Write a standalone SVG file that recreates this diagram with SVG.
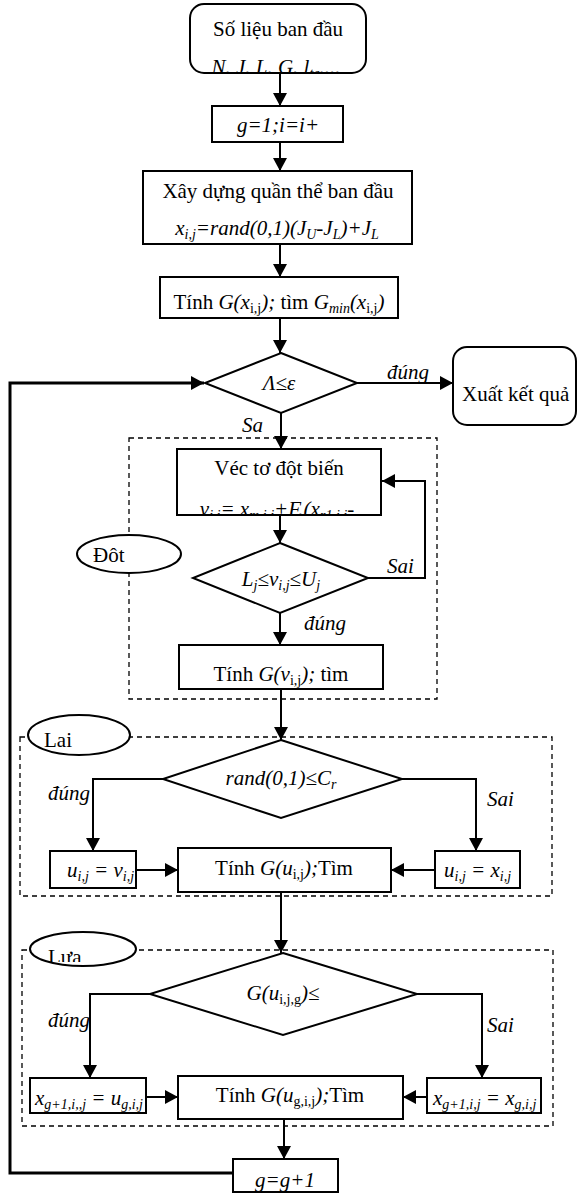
<svg xmlns="http://www.w3.org/2000/svg" width="577" height="1193" viewBox="0 0 577 1193">
<style>
.t{font-family:"Liberation Serif","Times New Roman",serif;font-size:21px;fill:#000}
.i{font-style:italic}
.s{font-size:14px}
.box{fill:#fff;stroke:#000;stroke-width:2}
.dash{fill:none;stroke:#000;stroke-width:1.3;stroke-dasharray:5 4}
.ln{fill:none;stroke:#000;stroke-width:2}
.lp{fill:none;stroke:#000;stroke-width:3}
</style>
<defs>
<marker id="ah" markerUnits="userSpaceOnUse" markerWidth="14" markerHeight="14" refX="13" refY="7" orient="auto">
<path d="M0,0 L13,7 L0,14 z" fill="#000"/>
</marker>
<clipPath id="c1"><rect x="190" y="0" width="180" height="72"/></clipPath>
<clipPath id="c2"><rect x="177" y="440" width="205" height="74"/></clipPath>
<clipPath id="c3"><rect x="0" y="900" width="200" height="62"/></clipPath>
</defs>

<g id="groups">
<rect class="dash" x="129" y="438" width="308" height="261"/>
<rect class="dash" x="20" y="737" width="532" height="159"/>
<rect class="dash" x="22" y="950" width="531" height="176"/>
<g id="lbl-dot"><ellipse class="box" cx="129" cy="554" rx="52" ry="19"/><text class="t" x="93" y="562">Đôt</text></g>
<g id="lbl-lai"><ellipse class="box" cx="79" cy="735" rx="51" ry="20"/><text class="t" x="44" y="747">Lai</text></g>
<g id="lbl-lua"><ellipse class="box" cx="83" cy="949" rx="53" ry="17"/><text class="t" x="48" y="964" clip-path="url(#c3)">Lựa</text></g>
</g>

<g id="connectors">
<path class="ln" d="M280 73 V106" marker-end="url(#ah)"/>
<path class="ln" d="M280 142 V171" marker-end="url(#ah)"/>
<path class="ln" d="M280 244 V277" marker-end="url(#ah)"/>
<path class="ln" d="M280 318 V353" marker-end="url(#ah)"/>
<path class="ln" d="M357 383 H453" marker-end="url(#ah)"/>
<path class="ln" d="M281 413 V449" marker-end="url(#ah)"/>
<path class="ln" d="M280 515 V543" marker-end="url(#ah)"/>
<path class="ln" d="M368 578 H425 V481 H382" marker-end="url(#ah)"/>
<path class="ln" d="M280 613 V645" marker-end="url(#ah)"/>
<path class="ln" d="M281 689 V740" marker-end="url(#ah)"/>
<path class="ln" d="M163 779 H93 V851" marker-end="url(#ah)"/>
<path class="ln" d="M402 779 H476 V851" marker-end="url(#ah)"/>
<path class="ln" d="M136 870 H178" marker-end="url(#ah)"/>
<path class="ln" d="M435 870 H391" marker-end="url(#ah)"/>
<path class="ln" d="M281 892 V953" marker-end="url(#ah)"/>
<path class="ln" d="M150 994 H90 V1078" marker-end="url(#ah)"/>
<path class="ln" d="M417 994 H482 V1078" marker-end="url(#ah)"/>
<path class="ln" d="M146 1097 H178" marker-end="url(#ah)"/>
<path class="ln" d="M427 1097 H403" marker-end="url(#ah)"/>
<path class="ln" d="M284 1119 V1159" marker-end="url(#ah)"/>
<path class="lp" d="M233 1173 H10 V383 H204" marker-end="url(#ah)"/>
<text class="t i" x="387" y="379">đúng</text>
<text class="t i" x="242" y="432">Sa</text>
<text class="t i" x="387" y="573">Sai</text>
<text class="t i" x="304" y="630">đúng</text>
<text class="t i" x="48" y="800">đúng</text>
<text class="t i" x="487" y="806">Sai</text>
<text class="t i" x="48" y="1027">đúng</text>
<text class="t i" x="487" y="1032">Sai</text>
</g>

<g id="start">
<rect class="box" x="190" y="4" width="176" height="69" rx="14"/>
<text class="t" x="278" y="36" text-anchor="middle">Số liệu ban đầu</text>
<text class="t i" x="276" y="74" text-anchor="middle" clip-path="url(#c1)">N. J. L. G. l<tspan class="s" dy="4">tc</tspan><tspan dy="-4">....</tspan></text>
</g>

<g id="init">
<rect class="box" x="212" y="106" width="131" height="36"/>
<text class="t i" x="278" y="132" text-anchor="middle">g=1;i=i+</text>
</g>

<g id="build">
<rect class="box" x="143" y="171" width="269" height="73"/>
<text class="t" x="278" y="198" text-anchor="middle">Xây dựng quần thể ban đầu</text>
<text class="t i" x="277" y="235" text-anchor="middle">x<tspan class="s" dy="4">i,j</tspan><tspan dy="-4">=rand(0,1)(J</tspan><tspan class="s" dy="4">U</tspan><tspan dy="-4">-J</tspan><tspan class="s" dy="4">L</tspan><tspan dy="-4">)+J</tspan><tspan class="s" dy="4">L</tspan></text>
</g>

<g id="eval0">
<rect class="box" x="160" y="277" width="238" height="41"/>
<text class="t" x="279" y="309" text-anchor="middle">Tính <tspan class="i">G(x</tspan><tspan class="s" dy="4">i,j</tspan><tspan class="i" dy="-4">);</tspan> tìm <tspan class="i">G</tspan><tspan class="s i" dy="4">min</tspan><tspan class="i" dy="-4">(x</tspan><tspan class="s" dy="4">i,j</tspan><tspan class="i" dy="-4">)</tspan></text>
</g>

<g id="cond">
<polygon class="box" points="281,353 357,383 281,413 205,383"/>
<text class="t i" x="279" y="390" text-anchor="middle">Λ≤ε</text>
</g>

<g id="output">
<rect class="box" x="453" y="347" width="123" height="78" rx="14"/>
<text class="t" x="462" y="401">Xuất kết quả</text>
</g>

<g id="mutation">
<rect class="box" x="177" y="449" width="204" height="66"/>
<text class="t" x="279" y="475" text-anchor="middle">Véc tơ đột biến</text>
<text class="t i" x="277" y="516" text-anchor="middle" clip-path="url(#c2)">v<tspan class="s" dy="4">i,j</tspan><tspan dy="-4">= x</tspan><tspan class="s" dy="4">m,i,j</tspan><tspan dy="-4">+F.(x</tspan><tspan class="s" dy="4">r1,i,j</tspan><tspan dy="-4">-</tspan></text>
</g>

<g id="bound">
<polygon class="box" points="280,543 368,578 280,613 193,578"/>
<text class="t i" x="281" y="586" text-anchor="middle">L<tspan class="s" dy="4">j</tspan><tspan dy="-4">≤v</tspan><tspan class="s" dy="4">i,j</tspan><tspan dy="-4">≤U</tspan><tspan class="s" dy="4">j</tspan></text>
</g>

<g id="eval-v">
<rect class="box" x="179" y="645" width="204" height="44"/>
<text class="t" x="281" y="681" text-anchor="middle">Tính <tspan class="i">G(v</tspan><tspan class="s" dy="4">i,j</tspan><tspan class="i" dy="-4">);</tspan> tìm</text>
</g>

<g id="cross">
<polygon class="box" points="281,740 402,779 281,818 163,779"/>
<text class="t i" x="281" y="785" text-anchor="middle">rand(0,1)≤C<tspan class="s" dy="4">r</tspan></text>
</g>

<g id="u-v">
<rect class="box" x="50" y="851" width="86" height="37"/>
<text class="t i" x="67" y="877">u<tspan class="s" dy="4">i,j</tspan><tspan dy="-4"> = v</tspan><tspan class="s" dy="4">i,j</tspan></text>
</g>

<g id="eval-u">
<rect class="box" x="178" y="848" width="213" height="44"/>
<text class="t" x="284" y="875" text-anchor="middle">Tính <tspan class="i">G(u</tspan><tspan class="s" dy="4">i,j</tspan><tspan class="i" dy="-4">);</tspan>Tìm</text>
</g>

<g id="u-x">
<rect class="box" x="435" y="851" width="85" height="37"/>
<text class="t i" x="444" y="877">u<tspan class="s" dy="4">i,j</tspan><tspan dy="-4"> = x</tspan><tspan class="s" dy="4">i,j</tspan></text>
</g>

<g id="select">
<polygon class="box" points="283,953 417,994 283,1035 150,994"/>
<text class="t i" x="283" y="1000" text-anchor="middle">G(u<tspan class="s" dy="4" font-style="normal">i,j,g</tspan><tspan dy="-4">)≤</tspan></text>
</g>

<g id="x-u">
<rect class="box" x="30" y="1078" width="116" height="35"/>
<text class="t i" x="35" y="1105">x<tspan class="s" dy="4">g+1,i,,j</tspan><tspan dy="-4"> = u</tspan><tspan class="s" dy="4">g,i,j</tspan></text>
</g>

<g id="eval-ug">
<rect class="box" x="178" y="1076" width="225" height="43"/>
<text class="t" x="290" y="1102" text-anchor="middle">Tính <tspan class="i">G(u</tspan><tspan class="s" dy="4">g,i,j</tspan><tspan class="i" dy="-4">);</tspan>Tìm</text>
</g>

<g id="x-x">
<rect class="box" x="427" y="1078" width="114" height="35"/>
<text class="t i" x="433" y="1105">x<tspan class="s" dy="4">g+1,i,j</tspan><tspan dy="-4"> = x</tspan><tspan class="s" dy="4">g,i,j</tspan></text>
</g>

<g id="next">
<rect class="box" x="233" y="1159" width="105" height="33"/>
<text class="t i" x="285" y="1187" text-anchor="middle">g=g+1</text>
</g>
</svg>
